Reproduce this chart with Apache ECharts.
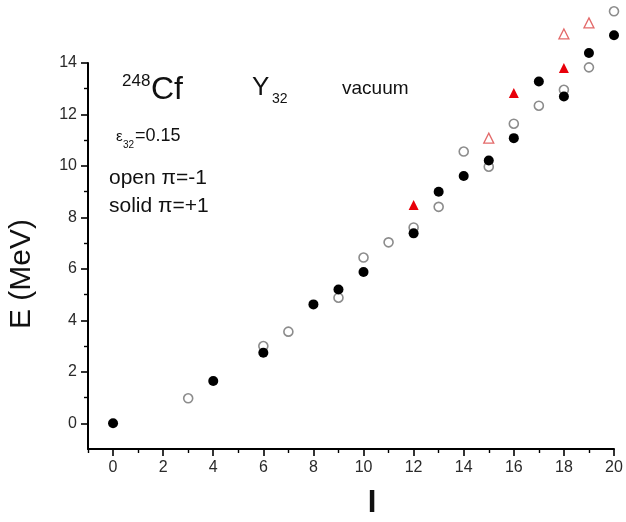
<!DOCTYPE html>
<html>
<head>
<meta charset="utf-8">
<script src="https://cdn.jsdelivr.net/npm/echarts@6/dist/echarts.min.js"></script>
<style>
  html, body { margin: 0; padding: 0; background: #fff; }
  #chart { width: 626px; height: 522px; }
</style>
</head>
<body>
<div id="chart"></div>
<script>
// Level energies E (MeV) against spin I for 248Cf, Y32 vacuum, eps32 = 0.15

// solid circles: positive parity
const solidI = [0, 4, 6, 8, 9, 10, 12, 13, 14, 15, 16, 17, 18, 19, 20];
const solidE = [0, 1.64, 2.74, 4.62, 5.20, 5.88, 7.38, 9.00, 9.61, 10.21, 11.08, 13.28, 12.70, 14.39, 15.08];

// open circles: negative parity
const openI = [3, 6, 7, 9, 10, 11, 12, 13, 14, 15, 16, 17, 18, 19, 20];
const openE = [0.97, 3.00, 3.56, 4.88, 6.44, 7.03, 7.61, 8.41, 10.56, 9.97, 11.64, 12.34, 12.96, 13.83, 16.01];

// red filled triangles
const redSolidI = [12, 16, 18];
const redSolidE = [8.48, 12.83, 13.81];

// red open triangles
const redOpenI = [15, 18, 19];
const redOpenE = [11.08, 15.13, 15.56];

// axis ticks
const xMajor = [0, 2, 4, 6, 8, 10, 12, 14, 16, 18, 20];
const xMinor = [-1, 1, 3, 5, 7, 9, 11, 13, 15, 17, 19];
const yMajor = [0, 2, 4, 6, 8, 10, 12, 14];
const yMinor = [1, 3, 5, 7, 9, 11, 13];

const pairs = (xs, ys) => xs.map((x, i) => [x, ys[i]]);
const FONT = '"Liberation Sans", Arial, sans-serif';

const chart = echarts.init(document.getElementById('chart'), null, { renderer: 'canvas' });

// one axis for the long labelled ticks, a second one on the same side for the short ticks
function axisPair(dim, lo, hi, major, minor) {
  const base = {
    type: 'value', min: lo, max: hi, gridIndex: 0,
    position: dim === 'x' ? 'bottom' : 'left',
    splitLine: { show: false }
  };
  return [
    Object.assign({}, base, {
      axisLine: { show: true, onZero: false, lineStyle: { color: '#000', width: 2 } },
      axisTick: { show: true, inside: false, length: 7, customValues: major,
                  lineStyle: { color: '#000', width: 1.6 } },
      axisLabel: { show: true, customValues: major, color: '#2a2a2a', fontSize: 16,
                   fontFamily: FONT, margin: 11 }
    }),
    Object.assign({}, base, {
      axisLine: { show: false, onZero: false },
      axisTick: { show: true, inside: false, length: 4, customValues: minor,
                  lineStyle: { color: '#000', width: 1.4 } },
      axisLabel: { show: false }
    })
  ];
}

function txt(text, x, y, font, extra) {
  return {
    type: 'text', z: 10,
    style: Object.assign({
      text: text, x: x, y: y, fill: '#111',
      font: (typeof font === 'number' ? font + 'px ' : font + ' ') + FONT,
      textAlign: 'left', textVerticalAlign: 'middle'
    }, extra || {})
  };
}

const option = {
  animation: false,
  backgroundColor: '#fff',
  grid: { left: 88, right: 12, top: 63, bottom: 73, containLabel: false },
  xAxis: axisPair('x', -1, 20, xMajor, xMinor),
  yAxis: axisPair('y', -1, 14, yMajor, yMinor),
  series: [
    {
      name: 'open', type: 'scatter', clip: false, z: 2,
      data: pairs(openI, openE),
      symbol: 'circle', symbolSize: 9,
      itemStyle: { color: '#fff', borderColor: '#8c8c8c', borderWidth: 1.6, opacity: 1 }
    },
    {
      name: 'solid', type: 'scatter', clip: false, z: 3,
      data: pairs(solidI, solidE),
      symbol: 'circle', symbolSize: 10,
      itemStyle: { color: '#000', opacity: 1 }
    },
    {
      name: 'red solid', type: 'scatter', clip: false, z: 3,
      data: pairs(redSolidI, redSolidE),
      symbol: 'triangle', symbolSize: 10,
      itemStyle: { color: '#e8000a', opacity: 1 }
    },
    {
      name: 'red open', type: 'scatter', clip: false, z: 3,
      data: pairs(redOpenI, redOpenE),
      symbol: 'triangle', symbolSize: 10,
      itemStyle: { color: 'rgba(255,255,255,0)', borderColor: '#e36a6a', borderWidth: 1.3, opacity: 1 }
    }
  ],
  graphic: [
    // axis titles
    {
      type: 'text', z: 10, x: 22, y: 274, rotation: Math.PI / 2,
      style: { text: 'E (MeV)', x: 0, y: 0, fill: '#111', font: '30px ' + FONT,
               textAlign: 'center', textVerticalAlign: 'middle' }
    },
    txt('I', 372, 503, 'bold 31px', { textAlign: 'center' }),
    // annotations
    txt('248', 122, 81, 17),
    txt('Cf', 151, 90, 32),
    txt('Y', 252, 88, 26),
    txt('32', 272, 99, 14),
    txt('vacuum', 342, 89, 19),
    txt('ε', 116, 137, 15),
    txt('32', 123, 145, 10),
    txt('=0.15', 135, 136, 18),
    txt('open π=-1', 109, 178, 21),
    txt('solid π=+1', 109, 206, 21)
  ]
};

chart.setOption(option);
</script>
</body>
</html>
